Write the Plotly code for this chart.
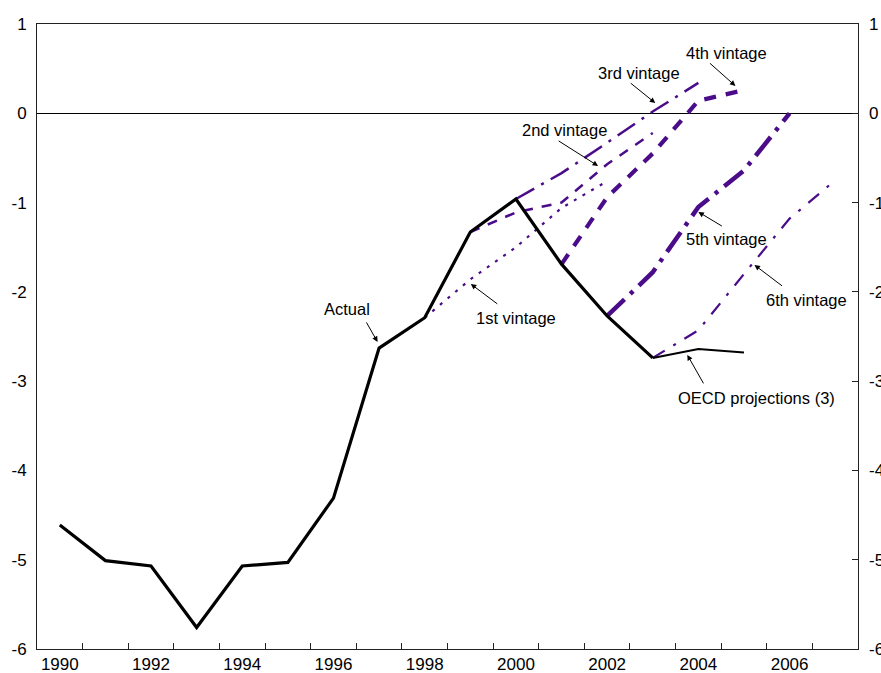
import plotly.graph_objects as go

# General government balance, % of GDP: outturns and successive projection vintages
years_actual = [1990, 1991, 1992, 1993, 1994, 1995, 1996, 1997,
                1998, 1999, 2000, 2001, 2002, 2003]
actual = [-4.61, -5.01, -5.07, -5.76, -5.07, -5.03, -4.31, -2.63,
          -2.29, -1.33, -0.96, -1.69, -2.27, -2.74]

years_oecd = [2003, 2004, 2005]
oecd_proj = [-2.74, -2.64, -2.68]

years_v1 = [1998, 1999, 2000, 2001, 2002]
vintage1 = [-2.29, -1.86, -1.50, -1.06, -0.76]
years_v2 = [1999, 2000, 2001, 2002, 2003]
vintage2 = [-1.33, -1.11, -1.00, -0.57, -0.22]
years_v3 = [2000, 2001, 2002, 2003, 2004]
vintage3 = [-0.96, -0.67, -0.33, 0.02, 0.34]
years_v4 = [2001, 2002, 2003, 2004, 2005]
vintage4 = [-1.69, -0.94, -0.45, 0.14, 0.26]
years_v5 = [2002, 2003, 2004, 2005, 2006]
vintage5 = [-2.27, -1.78, -1.05, -0.64, 0.0]
years_v6 = [2003, 2004, 2005, 2006, 2007]
vintage6 = [-2.74, -2.43, -1.80, -1.18, -0.75]

x_labels = [1990, 1992, 1994, 1996, 1998, 2000, 2002, 2004, 2006]
y_ticks = [1, 0, -1, -2, -3, -4, -5, -6]
y_ticktext = [str(v) for v in y_ticks]  # plain hyphen-minus

PURPLE = "#4B0C8A"
FONT = "Liberation Sans, Arial, sans-serif"

fig = go.Figure()

vintage_styles = [
    (years_v1, vintage1, 2.2, "3px,7px"),
    (years_v2, vintage2, 2.5, "10px,9px"),
    (years_v3, vintage3, 2.5, "21px,8px,3px,8px"),
    (years_v4, vintage4, 4.2, "12px,10px"),
    (years_v5, vintage5, 4.5, "24px,8px,4px,8px"),
    (years_v6, vintage6, 2.2, "14px,10px,3px,10px"),
]
for xs, ys, w, dash in vintage_styles:
    fig.add_trace(go.Scatter(x=xs, y=ys, mode="lines",
                             line=dict(color=PURPLE, width=w, dash=dash),
                             showlegend=False, hoverinfo="skip"))

fig.add_trace(go.Scatter(x=years_oecd, y=oecd_proj, mode="lines",
                         line=dict(color="black", width=2),
                         showlegend=False, hoverinfo="skip"))
fig.add_trace(go.Scatter(x=years_actual, y=actual, mode="lines",
                         line=dict(color="black", width=3.2),
                         showlegend=False, hoverinfo="skip"))
# mirror trace so the right-hand scale is drawn
fig.add_trace(go.Scatter(x=years_actual, y=actual, mode="lines", yaxis="y2",
                         line=dict(color="rgba(0,0,0,0)", width=0),
                         showlegend=False, hoverinfo="skip"))

# label text: (text, x, y) and its pointer: (tip x, tip y, tail dx, tail dy in px)
labels = [
    ("Actual", 1996.286, -2.19, 1996.967, -2.561, -12, -21),
    ("1st vintage", 2000.0, -2.292, 1999.011, -1.912, 28, 21),
    ("2nd vintage", 2001.055, -0.187, 2001.802, -0.590, -41, -26),
    ("3rd vintage", 2002.703, 0.451, 2003.055, 0.115, -26, -21),
    ("4th vintage", 2004.615, 0.675, 2004.813, 0.306, -27, -24),
    ("5th vintage", 2004.615, -1.408, 2004.0, -1.105, 25, 15),
    ("6th vintage", 2006.374, -2.091, 2005.231, -1.699, 29, 22),
    ("OECD projections (3)", 2005.275, -3.188, 2003.758, -2.706, 17, 30),
]
for text, tx, ty, px, py, ax, ay in labels:
    fig.add_annotation(x=tx, y=ty, text=text, showarrow=False,
                       font=dict(family=FONT, size=16.5, color="black"))
    fig.add_annotation(x=px, y=py, text="", ax=ax, ay=ay,
                       showarrow=True, arrowhead=2, arrowsize=1.1,
                       arrowwidth=1, arrowcolor="black")

fig.update_layout(
    width=881, height=673,
    margin=dict(l=37, r=23, t=24, b=24),
    paper_bgcolor="white", plot_bgcolor="white",
    font=dict(family=FONT, size=17, color="black"),
    xaxis=dict(range=[1989.5, 2007.5], tickvals=x_labels,
               ticktext=[str(v) for v in x_labels], ticks="",
               automargin=False, showgrid=False, zeroline=False,
               showline=True, mirror=True, linecolor="#222", linewidth=1,
               minor=dict(tickvals=[v + 0.5 for v in range(1990, 2007)],
                          ticks="inside", ticklen=6, tickcolor="#222",
                          tickwidth=1, showgrid=False)),
    yaxis=dict(range=[-6, 1], tickvals=y_ticks, ticktext=y_ticktext,
               ticks="", automargin=False,
               showgrid=False, zeroline=True, zerolinecolor="black",
               zerolinewidth=1, showline=True, mirror=True,
               linecolor="#222", linewidth=1, ticklabelstandoff=6),
    yaxis2=dict(range=[-6, 1], tickvals=y_ticks, ticktext=y_ticktext,
                overlaying="y", side="right", ticks="inside", ticklen=6,
                tickcolor="#222", automargin=False,
                showgrid=False, zeroline=False, showline=False,
                ticklabelstandoff=10),
)

fig.write_html("out.html")
